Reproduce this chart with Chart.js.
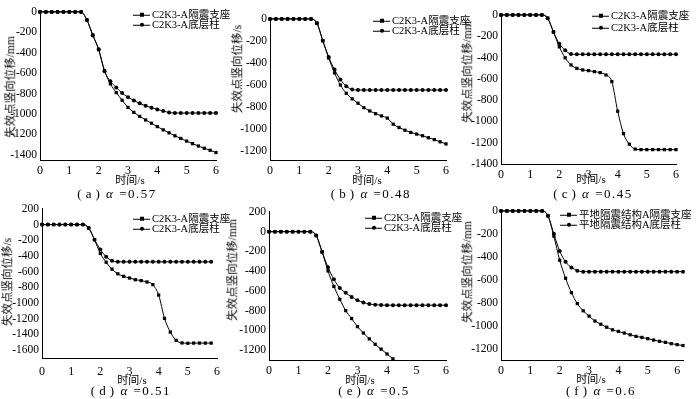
<!DOCTYPE html>
<html><head><meta charset="utf-8">
<script src="https://cdn.jsdelivr.net/npm/chart.js@4.4.0/dist/chart.umd.min.js"></script>
<style>
html,body{margin:0;padding:0;background:#fff;width:700px;height:399px;overflow:hidden;position:relative;font-family:'Liberation Serif','Noto Sans CJK SC',serif;color:#000}
.t{position:absolute;white-space:nowrap;transform:translate(-50%,-50%);line-height:1}
.yt{position:absolute;white-space:nowrap;transform:translate(-50%,-50%) rotate(-90deg);font-size:11.5px;line-height:1}
.lg{position:absolute;white-space:nowrap;font-size:10.5px;line-height:1;display:flex;align-items:center;transform:translateY(-50%)}
.ln{display:inline-block;width:17px;height:1px;background:#000;position:relative;margin-right:2px}
.mk{position:absolute;left:6.5px;top:-1.5px;width:4px;height:4px;background:#000}
.mk.c{border-radius:50%}
.cap{font-size:13px;letter-spacing:1.5px}
.xt{font-size:11px}
</style></head><body>
<script>
// ---------- data ----------
const T   = [0,0.2,0.4,0.6,0.8,1,1.2,1.4,1.6,1.8,2,2.2,2.4,2.6,2.8,3,3.2,3.4,3.6,3.8,4,4.2,4.4,4.6,4.8,5,5.2,5.4,5.6,5.8,6];
const T_d = [0,0.2,0.4,0.6,0.8,1,1.2,1.4,1.6,1.8,2,2.2,2.4,2.6,2.8,3,3.2,3.4,3.6,3.8,4,4.2,4.4,4.6,4.8,5,5.2,5.4,5.6,5.8];
const T_e = [0,0.2,0.4,0.6,0.8,1,1.2,1.4,1.6,1.8,2,2.2,2.4,2.6,2.8,3,3.2,3.4,3.6,3.8,4,4.2,4.4];
const T_f = [0,0.2,0.4,0.6,0.8,1,1.2,1.4,1.6,1.8,2,2.2,2.4,2.6,2.8,3,3.2,3.4,3.6,3.8,4,4.2,4.4,4.6,4.8,5,5.2,5.4,5.6,5.8,6,6.2];

const labelsC2K3 = ['C2K3-A隔震支座','C2K3-A底层柱'];
const labelsFlat = ['平地隔震结构A隔震支座','平地隔震结构A底层柱'];

// (a) alpha = 0.57
const a_bearing = [0,0,0,0,0,0,0,0,-80,-225,-370,-575,-705,-790,-865,-935,-984,-1023,-1058,-1090,-1123,-1155,-1184,-1213,-1239,-1265,-1290,-1313,-1335,-1355,-1377];
const a_column  = [0,0,0,0,0,0,0,0,-80,-230,-365,-580,-680,-740,-795,-835,-868,-895,-920,-938,-955,-970,-985,-990,-990,-990,-990,-990,-990,-990,-990];
// (b) alpha = 0.48
const b_bearing = [0,0,0,0,0,0,0,0,-39,-198,-355,-490,-600,-675,-725,-765,-805,-835,-860,-880,-900,-955,-985,-1010,-1030,-1045,-1060,-1078,-1095,-1115,-1134];
const b_column  = [0,0,0,0,0,0,0,0,-39,-198,-345,-460,-550,-610,-640,-645,-645,-645,-645,-645,-645,-645,-645,-645,-645,-645,-645,-645,-645,-645,-645];
// (c) alpha = 0.45
const c_bearing = [0,0,0,0,0,0,0,0,-31,-161,-300,-403,-470,-502,-517,-523,-533,-542,-564,-626,-904,-1115,-1214,-1260,-1265,-1265,-1265,-1265,-1265,-1265,-1265];
const c_column  = [0,0,0,0,0,0,0,0,-31,-161,-270,-331,-368,-370,-370,-370,-370,-370,-370,-370,-370,-370,-370,-370,-370,-370,-370,-370,-370,-370,-370];
// (d) alpha = 0.51
const d_bearing = [0,0,0,0,0,0,0,0,-42,-192,-368,-480,-568,-627,-660,-681,-702,-714,-731,-765,-898,-1195,-1370,-1475,-1508,-1512,-1510,-1510,-1510,-1510];
const d_column  = [0,0,0,0,0,0,0,0,-42,-192,-318,-410,-460,-475,-475,-475,-475,-475,-475,-475,-475,-475,-475,-475,-475,-475,-475,-475,-475,-475];
// (e) alpha = 0.5
const e_bearing = [0,0,0,0,0,0,0,0,-39,-205,-398,-555,-685,-800,-880,-962,-1027,-1086,-1141,-1190,-1239,-1288,-1335];
const e_column  = [0,0,0,0,0,0,0,0,-39,-205,-360,-483,-571,-620,-662,-695,-717,-734,-740,-744,-745,-745,-745,-745,-745,-745,-745,-745,-745,-745,-745];
// (f) alpha = 0.6
const f_bearing = [0,0,0,0,0,0,0,0,-43,-220,-430,-587,-713,-808,-871,-917,-960,-988,-1014,-1037,-1051,-1065,-1080,-1094,-1103,-1114,-1126,-1137,-1146,-1157,-1166,-1174];
const f_column  = [0,0,0,0,0,0,0,0,-43,-200,-350,-444,-493,-521,-530,-530,-530,-530,-530,-530,-530,-530,-530,-530,-530,-530,-530,-530,-530,-530,-530,-530];

// tick labels
const xTicks   = [0,1,2,3,4,5,6];
const yTicks_a = [0,-200,-400,-600,-800,-1000,-1200,-1400];
const yTicks_b = [0,-200,-400,-600,-800,-1000,-1200];
const yTicks_c = [0,-200,-400,-600,-800,-1000,-1200,-1400];
const yTicks_d = [200,0,-200,-400,-600,-800,-1000,-1200,-1400,-1600];
const yTicks_e = [200,0,-200,-400,-600,-800,-1000,-1200];
const yTicks_f = [0,-200,-400,-600,-800,-1000,-1200];

const xTitle = '时间/s';

// ---------- layout of panels ----------
const panels = [
 {rect:[40,10,216,160], xMax:6, yMin:-1450, yMax:0, yTicks:yTicks_a, s1:[T,a_bearing], s2:[T,a_column], labels:labelsC2K3,
  leg:[133,15,10], yt:[11,87,'失效点竖向位移/mm'], xt:[130,180], cap:[117,193,'a','0.57']},
 {rect:[270,17,446,160], xMax:6, yMin:-1280, yMax:0, yTicks:yTicks_b, s1:[T,b_bearing], s2:[T,b_column], labels:labelsC2K3,
  leg:[373,21,10], yt:[238,69,'失效点竖向位移/s'], xt:[367,180], cap:[371,193,'b','0.48']},
 {rect:[501,13,676,164], xMax:6, yMin:-1400, yMax:0, yTicks:yTicks_c, s1:[T,c_bearing], s2:[T,c_column], labels:labelsC2K3,
  leg:[592,16,12], yt:[468,72,'失效点竖向位移/mm'], xt:[591,179], cap:[593,193,'c','0.45']},
 {rect:[42,207,217,358], xMax:6, yMin:-1700, yMax:200, yTicks:yTicks_d, s1:[T_d,d_bearing], s2:[T_d,d_column], labels:labelsC2K3,
  leg:[133,219,10], yt:[8,282,'失效点竖向位移/s'], xt:[132,380], cap:[131,390,'d','0.51'], xpad:7},
 {rect:[269,210,446,360], xMax:6, yMin:-1300, yMax:200, yTicks:yTicks_e, s1:[T_e,e_bearing], s2:[T,e_column], labels:labelsC2K3,
  leg:[365,218,10], yt:[233,270,'失效点竖向位移/mm'], xt:[360,380], cap:[374,390,'e','0.5'], clipBottom:true},
 {rect:[501,209,683,360], xMax:6.2, yMin:-1300, yMax:0, yTicks:yTicks_f, s1:[T_f,f_bearing], s2:[T_f,f_column], labels:labelsFlat,
  leg:[560,215,10], yt:[468,272,'失效点竖向位移/mm'], xt:[591,379], cap:[601,390,'f','0.6']}
];

const FONT = "'Liberation Serif','Noto Sans CJK SC',serif";
function fmt(v){ return String(v); }

function addText(cls, x, y, html){
  const d=document.createElement('div'); d.className=cls; d.style.left=x+'px'; d.style.top=y+'px'; d.innerHTML=html;
  document.body.appendChild(d);
}

function makePanel(p){
  const YW=40, PT=8, PR=10, XH=22;
  const [pl,pt,pr,pb]=p.rect;
  const left=pl-YW, top=pt-PT, w=pr-pl+YW+PR, h=pb-pt+PT+XH;
  const cv=document.createElement('canvas');
  cv.width=w; cv.height=h;
  cv.style.cssText=`position:absolute;left:${left}px;top:${top}px;width:${w}px;height:${h}px`;
  document.body.appendChild(cv);
  const mk=(arr)=>arr[0].map((t,i)=>({x:t,y:arr[1][i]}));
  const ds=(arr,style,lbl)=>({label:lbl,data:mk(arr),borderColor:'#000',backgroundColor:'#000',borderWidth:1,
     pointStyle:style,pointRadius:style==='rect'?2.3:2,pointBorderWidth:0,tension:0.25,cubicInterpolationMode:'monotone',
     clip: p.clipBottom?{left:6,top:6,right:6,bottom:0}:6});
  new Chart(cv,{
    type:'line',
    data:{datasets:[ds(p.s1,'rect',p.labels[0]), ds(p.s2,'circle',p.labels[1])]},
    options:{
      responsive:false, animation:false, devicePixelRatio:1,
      layout:{padding:{top:PT,right:PR,left:0,bottom:0}},
      plugins:{legend:{display:false},tooltip:{enabled:false}},
      scales:{
        x:{type:'linear',min:0,max:p.xMax,
           afterBuildTicks:s=>{s.ticks=xTicks.map(v=>({value:v}));},
           afterFit:s=>{s.height=XH;},
           grid:{display:true,drawOnChartArea:false,drawTicks:false},
           border:{display:true,color:'#000',width:1},
           ticks:{color:'#000',padding:p.xpad||4,font:{family:FONT,size:12},maxRotation:0,autoSkip:false}},
        y:{type:'linear',min:p.yMin,max:p.yMax,
           afterBuildTicks:s=>{s.ticks=p.yTicks.map(v=>({value:v}));},
           afterFit:s=>{s.width=YW;},
           grid:{display:true,drawOnChartArea:false,drawTicks:false},
           border:{display:true,color:'#000',width:1},
           ticks:{color:'#000',padding:3,font:{family:FONT,size:11.5},callback:v=>fmt(v),autoSkip:false}}
      }
    }
  });
  // axis titles, caption, legend
  addText('yt',p.yt[0],p.yt[1],p.yt[2]);
  addText('t xt',p.xt[0],p.xt[1],xTitle);
  addText('t cap',p.cap[0],p.cap[1],`(&#8202;${p.cap[2]}&#8202;) <i>α</i> =${p.cap[3]}`);
  const [lx,ly,gap]=p.leg;
  ['','c'].forEach((m,i)=>{
    const d=document.createElement('div'); d.className='lg';
    d.style.left=lx+'px'; d.style.top=(ly+i*gap)+'px';
    d.innerHTML=`<span class="ln"><span class="mk ${m}"></span></span><span>${p.labels[i]}</span>`;
    document.body.appendChild(d);
  });
}
panels.forEach(makePanel);
</script>
</body></html>
